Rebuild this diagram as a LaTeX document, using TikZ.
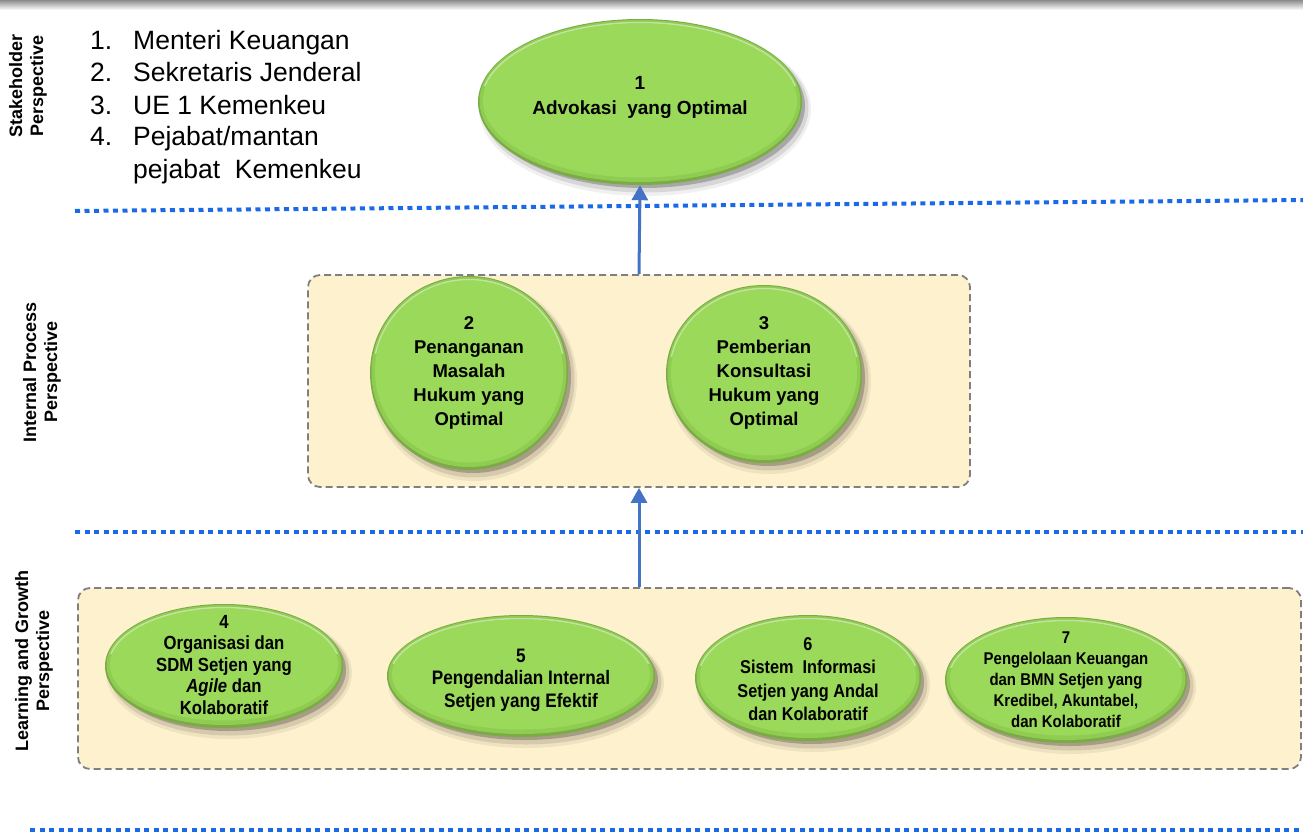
\documentclass[tikz,border=0pt]{standalone}
\usepackage{fontspec}
\setmainfont{Liberation Sans}
\newfontfamily\narrowfont{Liberation Sans}[FakeStretch=0.88]
\usetikzlibrary{arrows.meta,shapes.geometric}
\definecolor{gmain}{HTML}{9BD95B}
\definecolor{gmid}{HTML}{90CC51}
\definecolor{gdark}{HTML}{7AAB44}
\definecolor{boxfill}{HTML}{FEF1CE}
\definecolor{dashgray}{HTML}{7F7F7F}
\definecolor{dotblue}{HTML}{1A6AE8}
\definecolor{arrowblue}{HTML}{4472C4}
\tikzset{
  persp/.style={rotate=90,align=center,font=\bfseries\fontsize{18}{21}\selectfont},
  listitem/.style={anchor=base west,inner sep=0,font=\fontsize{26.5}{30}\selectfont},
  perspbox/.style={draw=dashgray,fill=boxfill,line width=1.8pt,dash pattern=on 7pt off 4pt,rounded corners=12pt},
  goalnode/.style={ellipse,inner sep=0},
  goaltext/.style={align=center,inner sep=0,font=\bfseries\fontsize{19}{25}\selectfont},
  goaltextn/.style={align=center,inner sep=0,font=\narrowfont\bfseries\fontsize{19}{21.5}\selectfont},
  sepline/.style={dotblue,line width=4pt,dash pattern=on 5pt off 4.5pt},
  uparrow/.style={arrowblue,line width=3pt,-{Triangle[width=16pt,length=15pt]}}
}
\newcommand\goalshape[4]{%
  \fill[black,opacity=0.06] (#1+5,#2+7) ellipse [x radius=#3+4,y radius=#4+4];
  \fill[black,opacity=0.10] (#1+5,#2+6) ellipse [x radius=#3+1.5,y radius=#4+1.5];
  \fill[black,opacity=0.22] (#1+4,#2+4) ellipse [x radius=#3-1,y radius=#4-1];
  \fill[gdark] (#1,#2) ellipse [x radius=#3,y radius=#4];
  \fill[gmid] (#1,#2-1) ellipse [x radius=#3-1.5,y radius=#4-2];
  \fill[gmain] (#1,#2-1.5) ellipse [x radius=#3-5,y radius=#4-6];
  \begin{scope}
    \clip (#1-#3,#2-#4) rectangle (#1+#3,#2-0.2*#4);
    \draw[white,opacity=0.45,line width=1.5pt] (#1,#2) ellipse [x radius=#3-3.5,y radius=#4-3.5];
  \end{scope}
}
\begin{document}
\begin{tikzpicture}[x=1pt,y=-1pt]
\useasboundingbox (0,0) rectangle (1303,832);
\fill[white] (0,0) rectangle (1303,832);
\shade[top color=black!45,bottom color=white] (0,0) rectangle (1303,10);

% separators
\coordinate (s1a) at (75,211);
\coordinate (s1b) at (1303,200);
\coordinate (s2a) at (75,532);
\coordinate (s2b) at (1303,532);
\coordinate (s3a) at (30,830);
\coordinate (s3b) at (1303,830);
\draw[sepline] (s1a) -- (s1b);
\draw[sepline] (s2a) -- (s2b);
\draw[sepline] (s3a) -- (s3b);

% perspective labels
\node[persp] (pstake) at (28,86) {Stakeholder\\Perspective};
\node[persp] (pint) at (42,372) {Internal Process\\Perspective};
\node[persp] (plearn) at (34,661) {Learning and Growth\\Perspective};

% stakeholder list
\node[listitem] (n1) at (90,50) {1.};
\node[listitem] (t1) at (133,50) {Menteri Keuangan};
\node[listitem] (n2) at (90,82) {2.};
\node[listitem] (t2) at (133,82) {Sekretaris Jenderal};
\node[listitem] (n3) at (90,114) {3.};
\node[listitem] (t3) at (133,114) {UE 1 Kemenkeu};
\node[listitem] (n4) at (90,146) {4.};
\node[listitem] (t4) at (133,146) {Pejabat/mantan};
\node[listitem] (t5) at (133,178) {pejabat\ \ Kemenkeu};

% boxes
\node[perspbox,minimum width=662pt,minimum height=212pt] (box2) at (639,381) {};
\node[perspbox,minimum width=1223pt,minimum height=181pt] (box3) at (689.5,678.5) {};

% goal 1
\goalshape{640}{102}{162}{83}
\node[goalnode,minimum width=324pt,minimum height=166pt] (e1) at (640,102) {};
\node[goaltext] (e1t) at (640,97) {1\\Advokasi\ \ yang Optimal};

% goal 2,3
\goalshape{469}{373}{99}{97}
\node[goalnode,minimum width=198pt,minimum height=194pt] (e2) at (469,373) {};
\node[goaltext,font=\bfseries\fontsize{18.5}{24}\selectfont] (e2t) at (469,373) {2\\Penanganan\\Masalah\\Hukum yang\\Optimal};
\goalshape{764}{374}{98}{89}
\node[goalnode,minimum width=196pt,minimum height=178pt] (e3) at (764,374) {};
\node[goaltext,font=\bfseries\fontsize{18.5}{24}\selectfont] (e3t) at (764,373) {3\\Pemberian\\Konsultasi\\Hukum yang\\Optimal};

% goals 4-7
\goalshape{224}{666}{119}{62}
\node[goalnode,minimum width=238pt,minimum height=124pt] (e4) at (224,666) {};
\node[goaltextn] (e4t) at (224,665) {4\\Organisasi dan\\SDM Setjen yang\\\textit{Agile} dan\\Kolaboratif};
\goalshape{521}{676}{134}{61}
\node[goalnode,minimum width=268pt,minimum height=122pt] (e5) at (521,676) {};
\node[goaltextn,font=\narrowfont\bfseries\fontsize{19.5}{22.5}\selectfont] (e5t) at (521,680) {5\\Pengendalian Internal\\Setjen yang Efektif};
\goalshape{808}{678}{113}{63}
\node[goalnode,minimum width=226pt,minimum height=126pt] (e6) at (808,678) {};
\node[goaltextn,font=\narrowfont\bfseries\fontsize{18.5}{23.5}\selectfont] (e6t) at (808,679) {6\\Sistem\ \ Informasi\\Setjen\ yang\ Andal\\dan Kolaboratif};
\goalshape{1066}{680}{121}{63}
\node[goalnode,minimum width=242pt,minimum height=126pt] (e7) at (1066,680) {};
\node[goaltextn,font=\narrowfont\bfseries\fontsize{17}{21}\selectfont] (e7t) at (1066,680) {7\\Pengelolaan Keuangan\\dan BMN Setjen yang\\Kredibel, Akuntabel,\\dan Kolaboratif};

% arrows
\draw[uparrow] (box2.north) -- (e1.south);
\draw[uparrow] (box3.north -| box2.south) -- (box2.south);
\end{tikzpicture}
\end{document}
